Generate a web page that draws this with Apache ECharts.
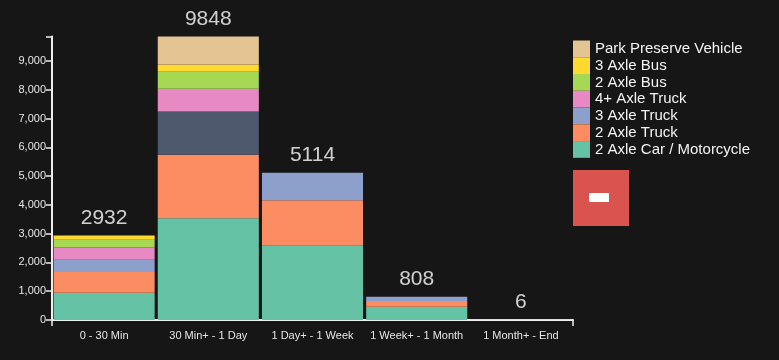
<!DOCTYPE html>
<html>
<head>
<meta charset="utf-8">
<script src="https://cdn.jsdelivr.net/npm/echarts@6/dist/echarts.min.js"></script>
<style>
html,body{margin:0;padding:0;background:#161616;}
#c{width:779px;height:360px;}
</style>
</head>
<body>
<div id="c"></div>
<script>
var categories = ["0 - 30 Min", "30 Min+ - 1 Day", "1 Day+ - 1 Week", "1 Week+ - 1 Month", "1 Month+ - End"];
var carMotorcycle = [950, 3540, 2578, 460, 6];
var truck2Axle = [720, 2205, 1579, 200, 0];
var truck3Axle = [420, 1498, 957, 148, 0];
var truck4Axle = [430, 791, 0, 0, 0];
var bus2Axle = [270, 593, 0, 0, 0];
var bus3Axle = [142, 254, 0, 0, 0];
var parkPreserve = [0, 967, 0, 0, 0];
var totals = [2932, 9848, 5114, 808, 6];
var yTicks = [0, 1000, 2000, 3000, 4000, 5000, 6000, 7000, 8000, 9000];

var seriesDefs = [
  {name: "2 Axle Car / Motorcycle", data: carMotorcycle, color: "#66c2a5"},
  {name: "2 Axle Truck", data: truck2Axle, color: "#fc8d62"},
  {name: "3 Axle Truck", data: truck3Axle, color: "#8da0cb", highlight: {index: 1, color: "#4f596e"}},
  {name: "4+ Axle Truck", data: truck4Axle, color: "#e78ac3"},
  {name: "2 Axle Bus", data: bus2Axle, color: "#a6d854"},
  {name: "3 Axle Bus", data: bus3Axle, color: "#ffd92f"},
  {name: "Park Preserve Vehicle", data: parkPreserve, color: "#e5c494"}
];

var FONT = "Liberation Sans, Arial, sans-serif";
var series = seriesDefs.map(function (d) {
  var data = d.data.map(function (v, i) {
    if (d.highlight && d.highlight.index === i) {
      return {value: v, itemStyle: {color: d.highlight.color}};
    }
    return v;
  });
  return {
    name: d.name,
    type: "bar",
    stack: "total",
    barCategoryGap: "3%",
    itemStyle: {color: d.color},
    emphasis: {disabled: true},
    data: data
  };
});
series.push({
  name: "totals",
  type: "scatter",
  symbolSize: 0,
  silent: true,
  data: totals,
  label: {
    show: true,
    position: "top",
    distance: 7,
    color: "#ffffff",
    fontSize: 21,
    fontFamily: FONT,
    textBorderWidth: 0,
    formatter: function (p) { return String(totals[p.dataIndex]); }
  }
});

var chart = echarts.init(document.getElementById("c"));
chart.setOption({
  backgroundColor: "#161616",
  animation: false,
  textStyle: {fontFamily: FONT},
  grid: {left: 52, right: 206, top: 36.6, bottom: 40, containLabel: false},
  legend: {
    orient: "vertical",
    left: 573,
    top: 40.5,
    padding: 0,
    itemWidth: 17,
    itemHeight: 16.76,
    itemGap: 0,
    icon: "rect",
    selectedMode: false,
    textStyle: {color: "#f4f4f4", fontSize: 15, fontFamily: FONT, padding: [2, 0, 0, 0]},
    data: seriesDefs.map(function (d) { return d.name; }).reverse()
  },
  xAxis: [
    {
      type: "category",
      data: categories,
      axisLine: {lineStyle: {color: "#eeeeee", width: 2}},
      axisTick: {alignWithLabel: true, length: 6, lineStyle: {color: "#eeeeee", width: 1.5}},
      axisLabel: {interval: 0, color: "#e6e6e6", fontSize: 11, fontFamily: FONT, margin: 10}
    },
    {
      type: "value",
      position: "bottom",
      min: 0,
      max: 1,
      interval: 1,
      axisLine: {show: false},
      axisTick: {show: true, length: 6, lineStyle: {color: "#eeeeee", width: 1.5}},
      axisLabel: {show: false},
      splitLine: {show: false}
    }
  ],
  yAxis: {
    type: "value",
    min: 0,
    max: 9848,
    interval: 1000,
    axisLine: {show: true, lineStyle: {color: "#eeeeee", width: 2}},
    axisTick: {show: true, length: 6, lineStyle: {color: "#eeeeee", width: 1.5}},
    splitLine: {show: false},
    axisLabel: {
      color: "#e6e6e6",
      fontSize: 11,
      fontFamily: FONT,
      margin: 6,
      formatter: function (v) {
        if (yTicks.indexOf(v) < 0) return "";
        return v.toLocaleString("en-US");
      }
    }
  },
  graphic: [
    {type: "rect", left: 573, top: 170, shape: {width: 56, height: 56}, style: {fill: "#d9534f"}},
    {type: "rect", left: 589, top: 193, shape: {width: 20, height: 9}, style: {fill: "#ffffff"}}
  ],
  series: series
});
</script>
</body>
</html>
